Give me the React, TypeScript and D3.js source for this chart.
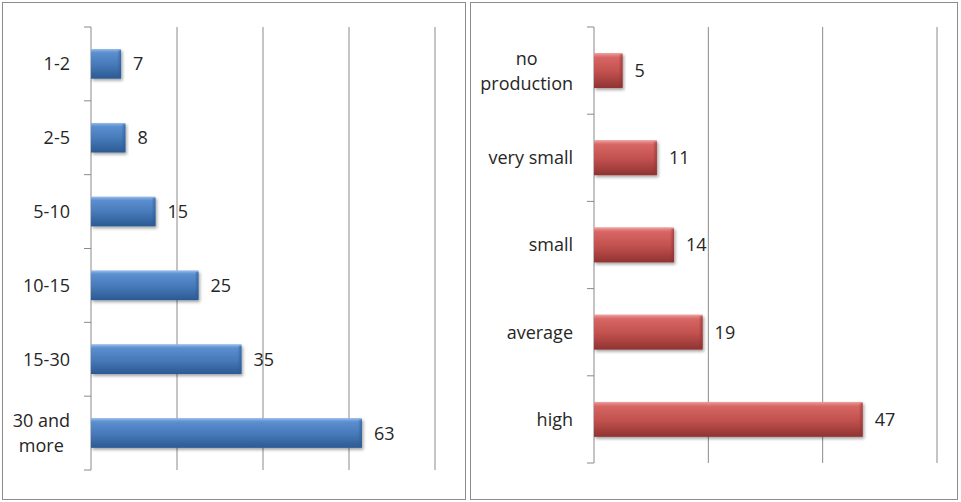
import React from "react";
import * as d3 from "d3";

const sizeCategories = ["1-2", "2-5", "5-10", "10-15", "15-30", "30 and\nmore"];
const sizeValues = [7, 8, 15, 25, 35, 63];
const sizeTicks = [0, 20, 40, 60, 80];

const prodCategories = ["no\nproduction", "very small", "small", "average", "high"];
const prodValues = [5, 11, 14, 19, 47];
const prodTicks = [0, 20, 40, 60];

const FONT = '"Open Sans", "DejaVu Sans", sans-serif';
const FS = 18;

let measureCtx: CanvasRenderingContext2D | null = null;
function textWidth(s: string): number {
  if (!measureCtx) {
    const c = document.createElement("canvas");
    measureCtx = c.getContext("2d");
  }
  if (!measureCtx) return s.length * FS * 0.55;
  measureCtx.font = `${FS}px ${FONT}`;
  return measureCtx.measureText(s).width;
}

type PanelProps = {
  id: string;
  categories: string[];
  values: number[];
  ticks: number[];
  box: [number, number, number, number];
  xRange: [number, number];
  yRange: [number, number];
  labelRight: number;
  colors: [string, string, string, string];
};

function Panel({ id, categories, values, ticks, box, xRange, yRange, labelRight, colors }: PanelProps) {
  const x = d3.scaleLinear().domain([0, ticks[ticks.length - 1]]).range(xRange);
  const y = d3
    .scaleBand<string>()
    .domain(categories)
    .range(yRange)
    .paddingInner(0.6)
    .paddingOuter(0.3);
  const step = y.step();
  const bw = y.bandwidth();
  const x0 = x(0);
  const grid = "#8a8a8a";
  const lineH = 25;
  return (
    <g>
      <defs>
        <linearGradient id={`g-${id}`} x1="0" y1="0" x2="0" y2="1">
          <stop offset="0" stopColor={colors[0]} />
          <stop offset="0.12" stopColor={colors[1]} />
          <stop offset="0.55" stopColor={colors[2]} />
          <stop offset="1" stopColor={colors[3]} />
        </linearGradient>
        <linearGradient id={`e-${id}`} x1="0" y1="0" x2="1" y2="0">
          <stop offset="0" stopColor={colors[3]} stopOpacity="0" />
          <stop offset="1" stopColor={colors[3]} stopOpacity="0.7" />
        </linearGradient>
        <filter id={`s-${id}`} x="-5%" y="-20%" width="115%" height="160%">
          <feDropShadow dx="1.5" dy="2" stdDeviation="1.5" floodColor="#000" floodOpacity="0.35" />
        </filter>
      </defs>
      <rect x={box[0] + 0.5} y={box[1] + 0.5} width={box[2]} height={box[3]} fill="#fff" stroke="#8c8c8c" />
      {ticks.slice(1).map((t) => (
        <line key={t} x1={x(t)} x2={x(t)} y1={yRange[0]} y2={yRange[1]} stroke={grid} strokeWidth={1} />
      ))}
      <line x1={x0} x2={x0} y1={yRange[0]} y2={yRange[1]} stroke={grid} strokeWidth={1} />
      {d3.range(categories.length + 1).map((i) => {
        const yy = yRange[0] + i * step;
        return <line key={i} x1={x0 - 7} x2={x0} y1={yy} y2={yy} stroke={grid} strokeWidth={1} />;
      })}
      {categories.map((c, i) => {
        const by = y(c) as number;
        const w = x(values[i]) - x0;
        return (
          <g key={c}>
            <g filter={`url(#s-${id})`}>
              <rect x={x0} y={by} width={w} height={bw} fill={`url(#g-${id})`} />
            </g>
            <rect x={x0 + w - 4} y={by + 1} width={4} height={bw - 2} fill={`url(#e-${id})`} />
            <line x1={x0} x2={x0 + w} y1={by + 0.5} y2={by + 0.5} stroke={colors[0]} strokeWidth={1} />
            <text
              x={x0 + w + 12}
              y={by + bw / 2}
              dy="0.36em"
              fontFamily={FONT}
              fontSize={FS}
              fill="#262626"
            >
              {values[i]}
            </text>
          </g>
        );
      })}
      {categories.map((c) => {
        const lines = c.split("\n");
        const cy = (y(c) as number) + bw / 2;
        const widths = lines.map(textWidth);
        const blockW = Math.max(...widths);
        const center = labelRight - blockW / 2;
        return (
          <text key={c} fontFamily={FONT} fontSize={FS} fill="#262626" textAnchor="middle">
            {lines.map((l, j) => (
              <tspan key={j} x={center} y={cy + FS * 0.36 + (j - (lines.length - 1) / 2) * lineH}>
                {l}
              </tspan>
            ))}
          </text>
        );
      })}
    </g>
  );
}

export default function App() {
  return (
    <svg
      width={961}
      height={502}
      style={{ position: "absolute", left: 0, top: 0, background: "#fff" }}
    >
      <Panel
        id="l"
        categories={sizeCategories}
        values={sizeValues}
        ticks={sizeTicks}
        box={[2, 2, 463, 497]}
        xRange={[91, 435]}
        yRange={[27, 470]}
        labelRight={70}
        colors={["#8fb5e6", "#5b8fd0", "#4678b8", "#2b5a92"]}
      />
      <Panel
        id="r"
        categories={prodCategories}
        values={prodValues}
        ticks={prodTicks}
        box={[470, 2, 487, 497]}
        xRange={[594, 937]}
        yRange={[27, 463]}
        labelRight={573}
        colors={["#ec9a98", "#d76664", "#c0504d", "#8f3331"]}
      />
    </svg>
  );
}
